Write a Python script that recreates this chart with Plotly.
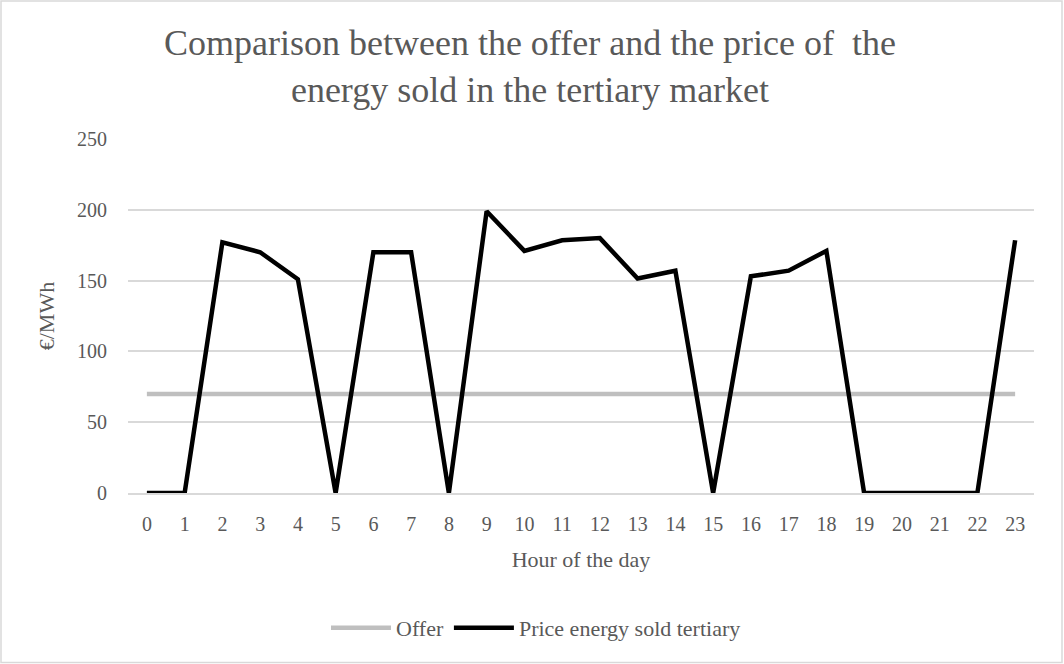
import plotly.graph_objects as go

hours = [str(h) for h in range(24)]
offer = [70] * 24
price_tertiary = [0, 0, 177, 170, 151, 0, 170, 170, 0, 199, 171, 178.5, 180, 151.5, 157,
                  0, 153, 157, 171, 0, 0, 0, 0, 178.5]

FONT = "Liberation Serif"
GREY = "#595959"

W, H = 1064, 664
L, R, T, B = 128, 30, 139, 171
pw, ph = W - L - R, H - T - B

fig = go.Figure()
fig.add_trace(go.Scatter(x=hours, y=offer, mode="lines", name="Offer",
                         line=dict(color="#bfbfbf", width=4.5)))
fig.add_trace(go.Scatter(x=hours, y=price_tertiary, mode="lines", name="Price energy sold tertiary",
                         line=dict(color="#000000", width=4.5)))

def px2x(p):
    return (p - L) / pw

def py2y(p):
    return (H - B - p) / ph

fig.add_shape(type="rect", xref="paper", yref="paper",
              x0=px2x(1), x1=px2x(W - 2), y0=py2y(H - 1.5), y1=py2y(1),
              line=dict(color="#d9d9d9", width=1.5), layer="below")

fig.update_layout(
    width=W, height=H,
    margin=dict(l=L, r=R, t=T, b=B),
    paper_bgcolor="white", plot_bgcolor="white",
    font=dict(family=FONT, color=GREY, size=20),
    title=dict(text="Comparison between the offer and the price of  the<br>energy sold in the tertiary market",
               x=530 / W, xanchor="center", y=1 - 55 / H, yanchor="middle",
               font=dict(family=FONT, size=36, color=GREY)),
    xaxis=dict(type="category", range=[-0.5, 23.5], showgrid=False,
               showline=True, linecolor="#d9d9d9", linewidth=1.5,
               ticks="", ticklabelstandoff=12, tickfont=dict(size=20, color=GREY),
               title=dict(text="Hour of the day", font=dict(size=22, color=GREY), standoff=18)),
    yaxis=dict(range=[0, 250], dtick=50, showgrid=True, gridcolor="#d9d9d9", gridwidth=1.5,
               zeroline=False, showline=False, ticks="", ticklabelstandoff=20,
               tickfont=dict(size=20, color=GREY),
               title=dict(text="€/MWh", font=dict(size=22, color=GREY), standoff=16)),
    legend=dict(orientation="h", x=px2x(536), xanchor="center", y=py2y(628), yanchor="middle",
                font=dict(size=22, color=GREY), itemwidth=60, traceorder="normal"),
    showlegend=True,
)

fig.write_html("out.html", config={"displayModeBar": False},
               post_script="document.body.style.margin='0';document.body.style.overflow='hidden';")
